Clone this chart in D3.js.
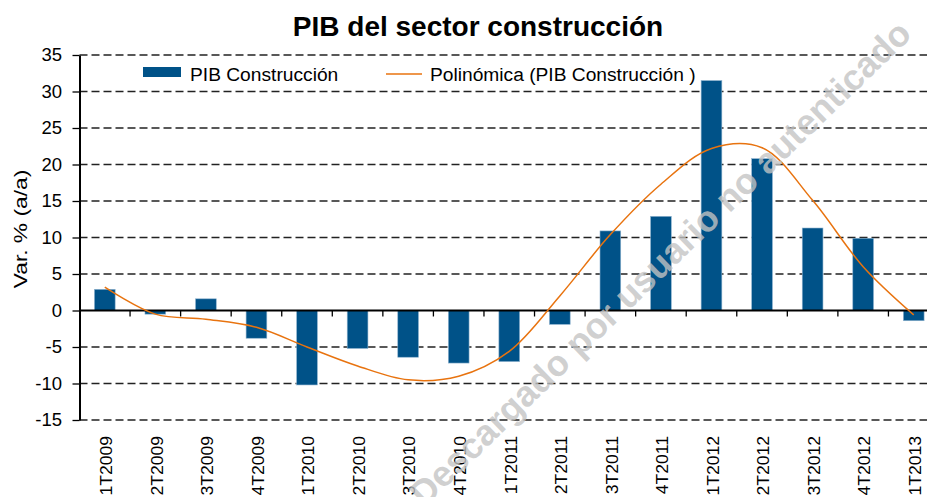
<!DOCTYPE html>
<html>
<head>
<meta charset="utf-8">
<script src="https://cdn.jsdelivr.net/npm/d3@7"></script>
<style>
  html, body { margin: 0; padding: 0; background: #fff; }
  svg { display: block; font-family: "Liberation Sans", Arial, sans-serif; }
</style>
</head>
<body>
<svg id="chart" width="927" height="497"></svg>
<script>
const categories = ["1T2009","2T2009","3T2009","4T2009","1T2010","2T2010","3T2010","4T2010","1T2011","2T2011","3T2011","4T2011","1T2012","2T2012","3T2012","4T2012","1T2013"];
const pibValues = [2.9, -0.5, 1.6, -3.8, -10.2, -5.2, -6.4, -7.2, -7.0, -1.9, 10.9, 12.9, 31.5, 20.8, 11.3, 9.9, -1.4];
const trendValues = [3.2, -0.5, -1.2, -2.3, -5.0, -7.6, -9.5, -9.0, -5.6, 2.0, 10.4, 17.3, 22.2, 22.3, 15.1, 6.0, -0.6];
const yTicks = [-15, -10, -5, 0, 5, 10, 15, 20, 25, 30, 35];
const title = "PIB del sector construcción";
const yLabel = "Var. % (a/a)";
const legendBar = "PIB Construcción";
const legendLine = "Polinómica (PIB Construcción )";
const watermark = "Descargado por usuario no autenticado";

const svg = d3.select("#chart");
const pLeft = 79.5, pRight = 939, pTop = 55, pBottom = 420;
const barColor = "#005288", lineColor = "#E8730F";

const x = d3.scaleBand().domain(categories).range([pLeft, pRight]).padding(0);
const y = d3.scaleLinear().domain([-15, 35]).range([pBottom, pTop]);

// Title
svg.append("text").attr("x", 478).attr("y", 36).attr("text-anchor", "middle")
  .attr("font-weight", "bold").attr("font-size", 28).text(title);

// Gridlines
svg.append("g").selectAll("line").data(yTicks.filter(d => d !== 0)).join("line")
  .attr("x1", pLeft).attr("x2", pRight)
  .attr("y1", d => y(d)).attr("y2", d => y(d))
  .attr("stroke", "#222").attr("stroke-width", 1.3).attr("stroke-dasharray", "8,4");

// Bars
const bw = x.bandwidth() * 0.41;
svg.append("g").selectAll("rect").data(categories).join("rect")
  .attr("x", (d) => x(d) + x.bandwidth() / 2 - bw / 2)
  .attr("width", bw)
  .attr("y", (d, i) => Math.min(y(pibValues[i]), y(0)))
  .attr("height", (d, i) => Math.abs(y(pibValues[i]) - y(0)))
  .attr("fill", barColor).attr("stroke", "#8fb3cf").attr("stroke-width", 0.6);

// Zero axis with band ticks
const zeroG = svg.append("g").attr("transform", `translate(0,${y(0)})`);
zeroG.append("line").attr("x1", pLeft).attr("x2", pRight).attr("stroke", "#000").attr("stroke-width", 2);
zeroG.selectAll("line.tk").data(categories.slice(1)).join("line").attr("class", "tk")
  .attr("x1", d => x(d)).attr("x2", d => x(d)).attr("y1", 0).attr("y2", 6)
  .attr("stroke", "#000").attr("stroke-width", 1.3);

// Trend line
const line = d3.line().x((d, i) => x(categories[i]) + x.bandwidth() / 2).y(d => y(d)).curve(d3.curveCatmullRom.alpha(0.5));
svg.append("path").datum(trendValues).attr("d", line)
  .attr("fill", "none").attr("stroke", lineColor).attr("stroke-width", 1.5);

// Y axis
const yAxis = d3.axisLeft(y).tickValues(yTicks).tickSize(7).tickSizeOuter(0).tickPadding(10.5)
  .tickFormat(d => String(d));
const yG = svg.append("g").attr("transform", `translate(${pLeft},0)`).call(yAxis);
yG.select(".domain").attr("stroke", "#000").attr("stroke-width", 2);
yG.selectAll(".tick line").attr("stroke", "#000").attr("stroke-width", 1.3);
yG.selectAll(".tick text").attr("font-size", 18.5).attr("fill", "#000")
  .attr("font-family", "Liberation Sans, Arial, sans-serif");

// X labels
svg.append("g").selectAll("text").data(categories).join("text")
  .attr("transform", d => `translate(${x(d) + x.bandwidth() / 2 + 1.5},436) rotate(-90) scale(1.1,1)`)
  .attr("text-anchor", "end").attr("dy", "0.36em")
  .attr("font-size", 16).text(d => d);

// Y label
svg.append("text").attr("transform", "translate(27,229) rotate(-90) scale(1.2,1)")
  .attr("text-anchor", "middle").attr("font-size", 19).text(yLabel);

// Legend
const lg = svg.append("g");
lg.append("rect").attr("x", 143).attr("y", 67).attr("width", 38).attr("height", 10).attr("fill", barColor);
lg.append("text").attr("x", 190).attr("y", 81).attr("font-size", 19.2).text(legendBar);
lg.append("line").attr("x1", 386).attr("x2", 422).attr("y1", 74).attr("y2", 74)
  .attr("stroke", lineColor).attr("stroke-width", 1.5);
lg.append("text").attr("x", 430).attr("y", 81).attr("font-size", 19.2).text(legendLine);

// Watermark
svg.append("text").attr("transform", "translate(660,263) rotate(-44)")
  .attr("text-anchor", "middle").attr("dy", "0.35em")
  .attr("font-weight", "bold").attr("font-size", 36)
  .attr("fill", "#c4c4c4").attr("fill-opacity", 0.8).text(watermark);
</script>
</body>
</html>
